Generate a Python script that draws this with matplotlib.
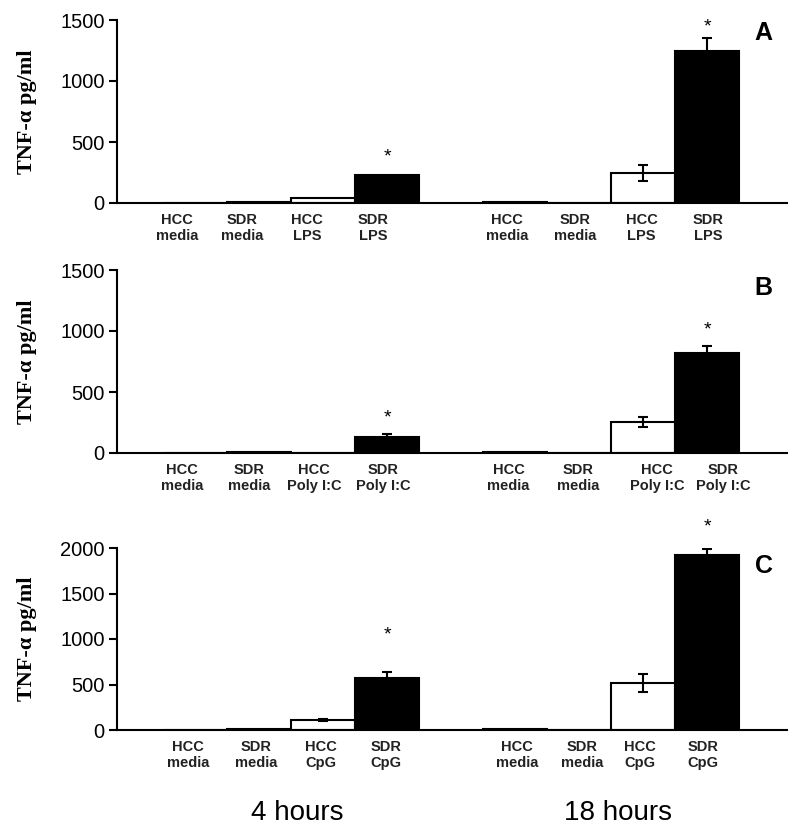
import matplotlib
matplotlib.use("Agg")
import matplotlib.pyplot as plt
import numpy as np

# ---------------- data ----------------
groups = ["4 hours", "18 hours"]
panel_letters = ["A", "B", "C"]
stimuli = ["LPS", "Poly I:C", "CpG"]
ylims = [1500, 1500, 2000]
yticks_list = [[0, 500, 1000, 1500], [0, 500, 1000, 1500], [0, 500, 1000, 1500, 2000]]

# order per panel: 4h HCC media, SDR media, HCC stim, SDR stim, 18h same order
values_A = [0, 10, 45, 228, 12, 0, 246, 1243]
errors_A = [0, 0, 0, 0, 0, 0, 68, 110]
values_B = [0, 10, 0, 134, 12, 0, 251, 822]
errors_B = [0, 0, 0, 25, 0, 0, 40, 55]
values_C = [0, 12, 110, 575, 15, 0, 520, 1923]
errors_C = [0, 0, 15, 58, 0, 0, 99, 62]
# asterisk heights (data units) for SDR-stim bars (4h, 18h)
star_A = [380, 1443]
star_B = [287, 1008]
star_C = [1044, 2231]

values = [values_A, values_B, values_C]
errors = [errors_A, errors_B, errors_C]
stars = [star_A, star_B, star_C]
cells = ["HCC", "SDR", "HCC", "SDR"]
colors = ["white", "black", "white", "black"]

# ---------------- layout ----------------
W, H = 800, 835
fig = plt.figure(figsize=(W / 100, H / 100), dpi=100)
positions = np.array([0.5, 1.5, 2.5, 3.5, 5.5, 6.5, 7.5, 8.5])
label_offsets = [
    [-0.28, -0.27, -0.25, -0.22, -0.12, -0.06, -0.02, 0.02],
    [-0.20, -0.16, -0.14, -0.06, -0.10, -0.02, 0.22, 0.25],
    [-0.11, -0.05, -0.03, -0.02, 0.03, 0.05, -0.05, -0.06],
]
axes_px = [(20, 203), (270, 453), (548, 730)]
left_px, right_px = 117, 787
sans = "Liberation Sans"

for i in range(3):
    top, bot = axes_px[i]
    ax = fig.add_axes([left_px / W, 1 - bot / H, (right_px - left_px) / W, (bot - top) / H])
    vals = values[i]
    errs = errors[i]
    cols = colors * 2
    ax.bar(positions, vals, width=1.0, color=cols, edgecolor="black", linewidth=1.5, zorder=2)
    for x, v, e in zip(positions, vals, errs):
        if e > 0:
            ax.errorbar([x], [v], yerr=[[e], [e]], fmt="none", ecolor="black",
                        elinewidth=1.5, capsize=3.5, capthick=1.5, zorder=3)
    # asterisks
    for x, sy in zip([positions[3], positions[7]], stars[i]):
        ax.text(x, sy, "*", ha="center", va="center", fontsize=14, family=sans, clip_on=False)
    ax.set_xlim(-0.72, 9.75)
    ax.set_ylim(0, ylims[i])
    ax.set_yticks(yticks_list[i])
    ax.set_yticklabels([str(t) for t in yticks_list[i]], fontsize=14.5, family=sans)
    ax.set_xticks([])
    for s in ["top", "right"]:
        ax.spines[s].set_visible(False)
    ax.spines["left"].set_linewidth(1.5)
    ax.spines["bottom"].set_linewidth(1.5)
    ax.tick_params(axis="y", direction="out", length=6, width=1.5, pad=3)
    ax.set_ylabel("TNF-\u03b1 pg/ml", fontsize=16, fontweight="bold", family="Liberation Serif")
    ax.yaxis.set_label_coords(-0.12, 0.5)
    # category labels
    cats = [f"{c}\n{m}" for c, m in zip(cells, ["media", "media", stimuli[i], stimuli[i]])] * 2
    for x, off, lab in zip(positions, label_offsets[i], cats):
        ax.annotate(lab, xy=(x + off, 0), xycoords=("data", "axes fraction"),
                    xytext=(0, -7.5), textcoords="offset points", ha="center", va="top",
                    fontsize=10.5, fontweight="bold", color="#222222", family=sans, linespacing=1.1)
    ax.text(0.965, 0.93 if i == 0 else 0.9, panel_letters[i], transform=ax.transAxes, fontsize=18,
            fontweight="bold", family=sans, ha="center", va="center")

fig.text(297 / W, 1 - 813 / H, groups[0], ha="center", va="center", fontsize=20, family=sans)
fig.text(618 / W, 1 - 813 / H, groups[1], ha="center", va="center", fontsize=20, family=sans)

fig.savefig("out.png", dpi=100)
